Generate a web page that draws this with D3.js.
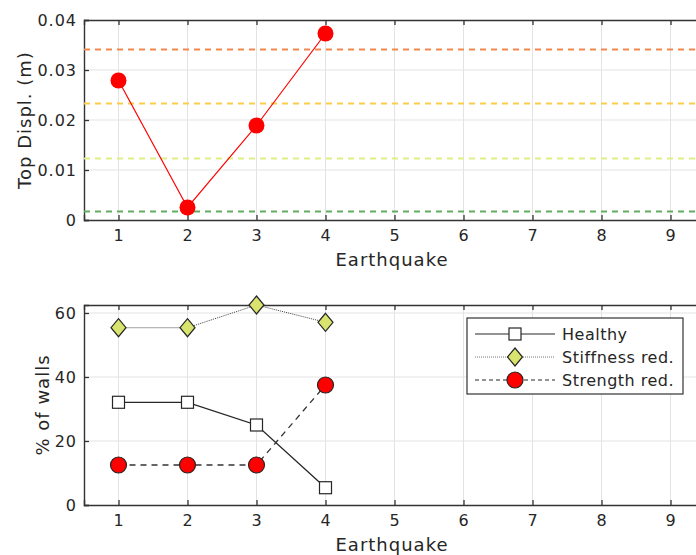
<!DOCTYPE html>
<html>
<head>
<meta charset="utf-8">
<script src="https://cdn.jsdelivr.net/npm/d3@7"></script>
<style>
  body { margin: 0; background: #fff; }
  svg text { font-family: "DejaVu Sans", Verdana, sans-serif; fill: #262626; letter-spacing: 1px; }
</style>
</head>
<body>
<div id="chart"></div>
<script>
// data
var quakes = [1, 2, 3, 4];
var topDispl = [0.0279, 0.0025, 0.0189, 0.0373];
var limitLevels = [0.0341, 0.0233, 0.0123, 0.0017];
var limitColors = ["#f2884e", "#fccd48", "#e0ee86", "#60ad60"];
var healthy = [32.1, 32.1, 25.0, 5.4];
var stiffnessRed = [55.4, 55.4, 62.5, 57.1];
var strengthRed = [12.5, 12.5, 12.5, 37.5];
var xTicks = [1, 2, 3, 4, 5, 6, 7, 8, 9];
var topYTicks = [0, 0.01, 0.02, 0.03, 0.04];
var botYTicks = [0, 20, 40, 60];
var legendNames = ["Healthy", "Stiffness red.", "Strength red."];

var svgWidth = 696;
var svgHeight = 555;

var svg = d3.select("#chart")
  .append("svg")
  .attr("width", svgWidth)
  .attr("height", svgHeight);

var axisColor = "#333";
var gridColor = "#e3e3e3";

var xScale = d3.scaleLinear()
  .domain([0.5, 9.5])
  .range([84, 705]);

var yTop = d3.scaleLinear()
  .domain([0, 0.04])
  .range([220, 20]);

var yBot = d3.scaleLinear()
  .domain([0, 62.5])
  .range([505, 305]);

// draws grid, frame, ticks and labels of one panel
function drawFrame(yScale, yTicks, yFormat, yLabel, yLabelX) {
  var g = svg.append("g");
  var y0 = yScale.range()[0], y1 = yScale.range()[1];
  var x0 = xScale.range()[0], x1 = xScale.range()[1];

  // grid
  g.selectAll(".vgrid")
    .data(xTicks)
    .enter()
    .append("line")
    .attr("x1", function(d) { return xScale(d); })
    .attr("x2", function(d) { return xScale(d); })
    .attr("y1", y0)
    .attr("y2", y1)
    .attr("stroke", gridColor)
    .attr("stroke-width", 1);

  g.selectAll(".hgrid")
    .data(yTicks.filter(function(d) { return yScale(d) > y1 + 1 && yScale(d) < y0; }))
    .enter()
    .append("line")
    .attr("x1", x0)
    .attr("x2", x1)
    .attr("y1", function(d) { return yScale(d); })
    .attr("y2", function(d) { return yScale(d); })
    .attr("stroke", gridColor)
    .attr("stroke-width", 1);

  // bottom axis, ticks pointing in
  var xAxisG = g.append("g")
    .attr("transform", "translate(0," + y0 + ")")
    .call(d3.axisBottom(xScale).tickValues(xTicks).tickSize(-5).tickPadding(10).tickFormat(d3.format("d")));

  // top frame ticks
  var xTopG = g.append("g")
    .attr("transform", "translate(0," + y1 + ")")
    .call(d3.axisTop(xScale).tickValues(xTicks).tickSize(-5).tickFormat(""));

  var yAxisG = g.append("g")
    .attr("transform", "translate(" + x0 + ",0)")
    .call(d3.axisLeft(yScale).tickValues(yTicks).tickSize(-5).tickPadding(7).tickFormat(yFormat));

  [xAxisG, xTopG, yAxisG].forEach(function(a) {
    a.select(".domain").attr("stroke", axisColor).attr("stroke-width", 1.4);
    a.selectAll(".tick line").attr("stroke", axisColor).attr("stroke-width", 1.3);
    a.selectAll(".tick text")
      .attr("font-size", 16)
      .attr("fill", "#262626");
  });

  g.append("text")
    .attr("x", (x0 + 696) / 2 + 2)
    .attr("y", y0 + 46)
    .attr("text-anchor", "middle")
    .attr("font-size", 18)
    .text("Earthquake");

  g.append("text")
    .attr("transform", "translate(" + yLabelX + "," + ((y0 + y1) / 2) + ") rotate(-90)")
    .attr("text-anchor", "middle")
    .attr("font-size", 18)
    .text(yLabel);
}

function diamondPath(cx, cy) {
  var p = d3.path();
  p.moveTo(cx, cy - 9);
  p.lineTo(cx + 7.5, cy);
  p.lineTo(cx, cy + 9);
  p.lineTo(cx - 7.5, cy);
  p.closePath();
  return p.toString();
}

// ---- top panel ----
drawFrame(yTop, topYTicks, function(d) { return d === 0 ? "0" : d3.format(".2f")(d); }, "Top Displ. (m)", 31);

svg.selectAll(".limit")
  .data(limitLevels)
  .enter()
  .append("line")
  .attr("x1", xScale(0.5))
  .attr("x2", xScale(9.5))
  .attr("y1", function(d) { return yTop(d); })
  .attr("y2", function(d) { return yTop(d); })
  .attr("stroke", function(d, i) { return limitColors[i]; })
  .attr("stroke-width", 1.8)
  .attr("stroke-dasharray", "6,5");

var topLine = d3.line()
  .x(function(d, i) { return xScale(quakes[i]); })
  .y(function(d) { return yTop(d); });

svg.append("path")
  .datum(topDispl)
  .attr("d", topLine)
  .attr("fill", "none")
  .attr("stroke", "#ff0000")
  .attr("stroke-width", 1.2);

svg.selectAll(".topDot")
  .data(topDispl)
  .enter()
  .append("circle")
  .attr("cx", function(d, i) { return xScale(quakes[i]); })
  .attr("cy", function(d) { return yTop(d); })
  .attr("r", 8)
  .attr("fill", "#ff0000");

// ---- bottom panel ----
drawFrame(yBot, botYTicks, d3.format("d"), "% of walls", 49);

var botLine = d3.line()
  .x(function(d, i) { return xScale(quakes[i]); })
  .y(function(d) { return yBot(d); });

svg.append("path")
  .datum(healthy)
  .attr("d", botLine)
  .attr("fill", "none")
  .attr("stroke", "#262626")
  .attr("stroke-width", 1.3);

svg.append("path")
  .datum(stiffnessRed)
  .attr("d", botLine)
  .attr("fill", "none")
  .attr("stroke", "#444")
  .attr("stroke-width", 1)
  .attr("stroke-dasharray", "1,1");

svg.append("path")
  .datum(strengthRed)
  .attr("d", botLine)
  .attr("fill", "none")
  .attr("stroke", "#333")
  .attr("stroke-width", 1.3)
  .attr("stroke-dasharray", "6,5");

svg.selectAll(".hDot")
  .data(healthy)
  .enter()
  .append("rect")
  .attr("x", function(d, i) { return xScale(quakes[i]) - 6; })
  .attr("y", function(d) { return yBot(d) - 6; })
  .attr("width", 12)
  .attr("height", 12)
  .attr("fill", "#fff")
  .attr("stroke", "#262626")
  .attr("stroke-width", 1.2);

svg.selectAll(".sDot")
  .data(stiffnessRed)
  .enter()
  .append("path")
  .attr("d", function(d, i) { return diamondPath(xScale(quakes[i]), yBot(d)); })
  .attr("fill", "#d9e46e")
  .attr("stroke", "#262626")
  .attr("stroke-width", 1.2);

svg.selectAll(".rDot")
  .data(strengthRed)
  .enter()
  .append("circle")
  .attr("cx", function(d, i) { return xScale(quakes[i]); })
  .attr("cy", function(d) { return yBot(d); })
  .attr("r", 8)
  .attr("fill", "#ff0000")
  .attr("stroke", "#262626")
  .attr("stroke-width", 1.2);

// ---- legend ----
var legend = svg.append("g").attr("transform", "translate(467,318)");
legend.append("rect")
  .attr("width", 216)
  .attr("height", 76)
  .attr("fill", "#fff")
  .attr("stroke", "#333")
  .attr("stroke-width", 1.2);

var dashes = [null, "1,1", "4,3"];
var rows = legend.selectAll(".row")
  .data(legendNames)
  .enter()
  .append("g")
  .attr("transform", function(d, i) { return "translate(0," + (16 + i * 23) + ")"; });

rows.append("line")
  .attr("x1", 8)
  .attr("x2", 88)
  .attr("stroke", function(d, i) { return i === 1 ? "#777" : "#262626"; })
  .attr("stroke-width", function(d, i) { return i === 1 ? 1 : 1.2; })
  .attr("stroke-dasharray", function(d, i) { return dashes[i]; });

rows.each(function(d, i) {
  var r = d3.select(this);
  if (i === 0) {
    r.append("rect").attr("x", 42).attr("y", -6).attr("width", 12).attr("height", 12)
      .attr("fill", "#fff").attr("stroke", "#262626").attr("stroke-width", 1.2);
  } else if (i === 1) {
    r.append("path").attr("d", diamondPath(48, 0))
      .attr("fill", "#d9e46e").attr("stroke", "#262626").attr("stroke-width", 1.2);
  } else {
    r.append("circle").attr("cx", 48).attr("r", 8)
      .attr("fill", "#ff0000").attr("stroke", "#262626").attr("stroke-width", 1.2);
  }
});

rows.append("text")
  .attr("x", 95)
  .attr("dy", "0.35em")
  .attr("font-size", 16)
  .style("letter-spacing", "0.5px")
  .text(function(d) { return d; });
</script>
</body>
</html>
